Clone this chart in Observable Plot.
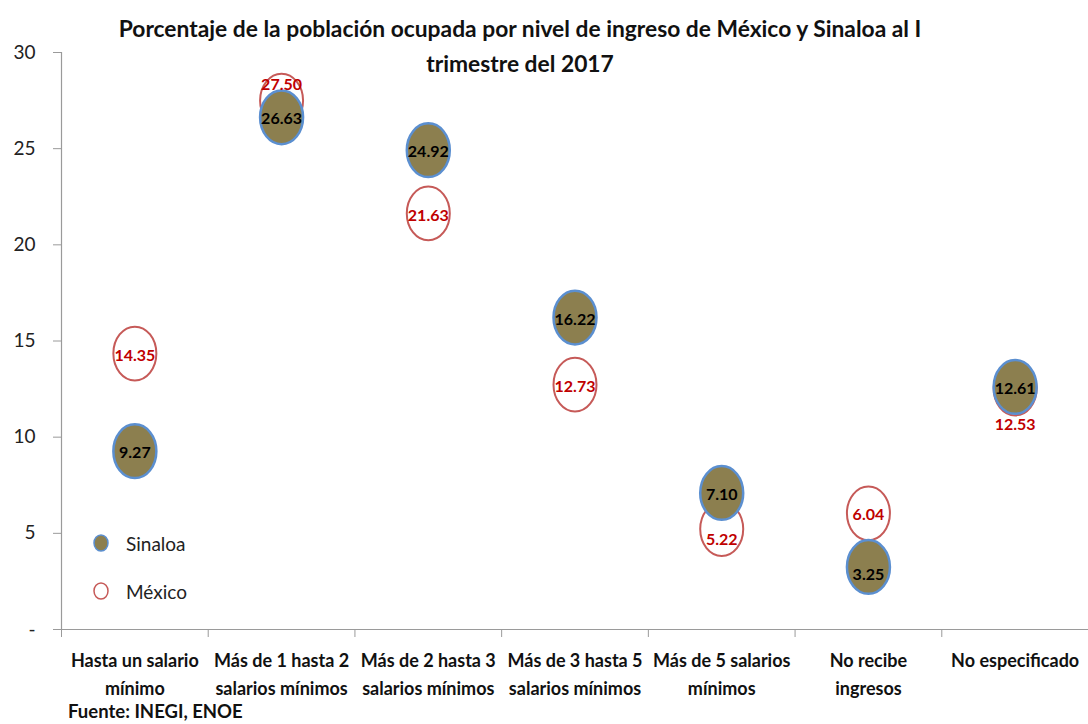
<!DOCTYPE html>
<html>
<head>
<meta charset="utf-8">
<script src="https://cdn.jsdelivr.net/npm/d3@7"></script>
<script src="https://cdn.jsdelivr.net/npm/@observablehq/plot@0.6"></script>
<style>
  html, body { margin: 0; padding: 0; background: #fff; }
  #wrap { position: relative; width: 1088px; height: 724px; font-family: Lato, "Open Sans", sans-serif; }
  #title { position: absolute; left: 0; top: 11px; width: 1040px; text-align: center; font-weight: bold; font-size: 22.8px; line-height: 35px; color: #111; }
  #source { position: absolute; left: 68px; top: 700px; font-weight: bold; font-size: 18.5px; line-height: 22px; color: #111; }
  #legend { position: absolute; left: 90px; top: 528px; font-size: 19px; color: #222; }
  #legend div { display: flex; align-items: center; height: 30px; margin-bottom: 18px; }
  #legend svg { margin-right: 14px; }
</style>
</head>
<body>
<div id="wrap">
  <div id="chart"></div>
  <div id="title">Porcentaje de la población ocupada por nivel de ingreso de México y Sinaloa al I<br>trimestre del 2017</div>
  <div id="legend">
    <div><svg width="22" height="22"><ellipse cx="11" cy="11" rx="7" ry="8" fill="#8c7f4f" stroke="#5b8fd0" stroke-width="1.5"/></svg>Sinaloa</div>
    <div><svg width="22" height="22"><ellipse cx="11" cy="11" rx="7" ry="8" fill="#fff" stroke="#c65a58" stroke-width="1.5"/></svg>México</div>
  </div>
  <div id="source">Fuente: INEGI, ENOE</div>
</div>
<script>
const categories = [
  "Hasta un salario\nmínimo",
  "Más de 1 hasta 2\nsalarios mínimos",
  "Más de 2 hasta 3\nsalarios mínimos",
  "Más de 3 hasta 5\nsalarios mínimos",
  "Más de 5 salarios\nmínimos",
  "No recibe\ningresos",
  "No especificado\n"
];
const sinaloa = [9.27, 26.63, 24.92, 16.22, 7.10, 3.25, 12.61];
const mexico  = [14.35, 27.50, 21.63, 12.73, 5.22, 6.04, 12.53];
const yTicks = [0, 5, 10, 15, 20, 25, 30];
const yTickLabels = ["-", "5", "10", "15", "20", "25", "30"];

const rows = [];
categories.forEach((c, i) => {
  rows.push({series: "México", cat: c, i, value: mexico[i]});
});
categories.forEach((c, i) => {
  rows.push({series: "Sinaloa", cat: c, i, value: sinaloa[i]});
});
const mexRows = rows.filter(d => d.series === "México");
const sinRows = rows.filter(d => d.series === "Sinaloa");

// label nudges to avoid overlaps (as in the original)
const mexDy = {1: -18, 4: 9, 6: 34};
const sinDy = {5: 6};

const ellipse = {
  draw(ctx, size) {
    const r = Math.sqrt(size / Math.PI);
    const rx = r, ry = r * 1.25, k = 0.5523;
    ctx.moveTo(rx, 0);
    ctx.bezierCurveTo(rx, ry * k, rx * k, ry, 0, ry);
    ctx.bezierCurveTo(-rx * k, ry, -rx, ry * k, -rx, 0);
    ctx.bezierCurveTo(-rx, -ry * k, -rx * k, -ry, 0, -ry);
    ctx.bezierCurveTo(rx * k, -ry, rx, -ry * k, rx, 0);
    ctx.closePath();
  }
};

const xc = d => d.i + 0.5;

function nudge(rowsArr, dyMap) {
  return function(index, scales, values, dims, ctx, next) {
    const g = next(index, scales, values, dims, ctx);
    d3.select(g).selectAll("text").each(function(_, k) {
      const i = index[k];
      const dy = dyMap[rowsArr[i].i] || 0;
      if (dy) this.setAttribute("transform", (this.getAttribute("transform") || "") + ` translate(0,${dy})`);
    });
    return g;
  };
}

const chart = Plot.plot({
  width: 1088,
  height: 724,
  marginLeft: 61,
  marginRight: 0,
  marginTop: 52,
  marginBottom: 95,
  style: {fontFamily: "Lato, 'Open Sans', sans-serif", background: "#fff", overflow: "visible"},
  x: {type: "linear", domain: [0, categories.length], axis: null, label: null},
  y: {domain: [0, 30], axis: null, label: null},
  marks: [
    Plot.axisY({ticks: yTicks, label: null, tickFormat: d => yTickLabels[yTicks.indexOf(d)], tickSize: 8, tickPadding: 18, stroke: "#9a9a9a", fill: "#222", fontSize: 19}),
    Plot.axisX({ticks: d3.range(0, categories.length), label: null, tickFormat: () => "", tickSize: 8, stroke: "#9a9a9a"}),
    Plot.axisX({ticks: categories.map((c, i) => i + 0.5), label: null, tickFormat: d => categories[Math.round(d - 0.5)], tickSize: 0, tickPadding: 18, fontSize: 18, fontWeight: "bold", fill: "#111", lineHeight: 1.55}),
    Plot.ruleX([0], {stroke: "#9a9a9a", strokeWidth: 1.2}),
    Plot.ruleY([0], {stroke: "#9a9a9a", strokeWidth: 1.2}),
    Plot.dot(mexRows, {x: xc, y: "value", r: 21.5, symbol: ellipse, fill: "#fff", stroke: "#c65a58", strokeWidth: 2}),
    Plot.dot(sinRows, {x: xc, y: "value", r: 21.5, symbol: ellipse, fill: "#8c7f4f", stroke: "#5b8fd0", strokeWidth: 2.5}),
    Plot.text(mexRows, {x: xc, y: "value", text: d => d.value.toFixed(2), dy: 2, fill: "#c00000", fontWeight: "bold", fontSize: 16, render: nudge(mexRows, mexDy)}),
    Plot.text(sinRows, {x: xc, y: "value", text: d => d.value.toFixed(2), dy: 2, fill: "#000", fontWeight: "bold", fontSize: 16, render: nudge(sinRows, sinDy)})
  ]
});
document.getElementById("chart").appendChild(chart);
</script>
</body>
</html>
